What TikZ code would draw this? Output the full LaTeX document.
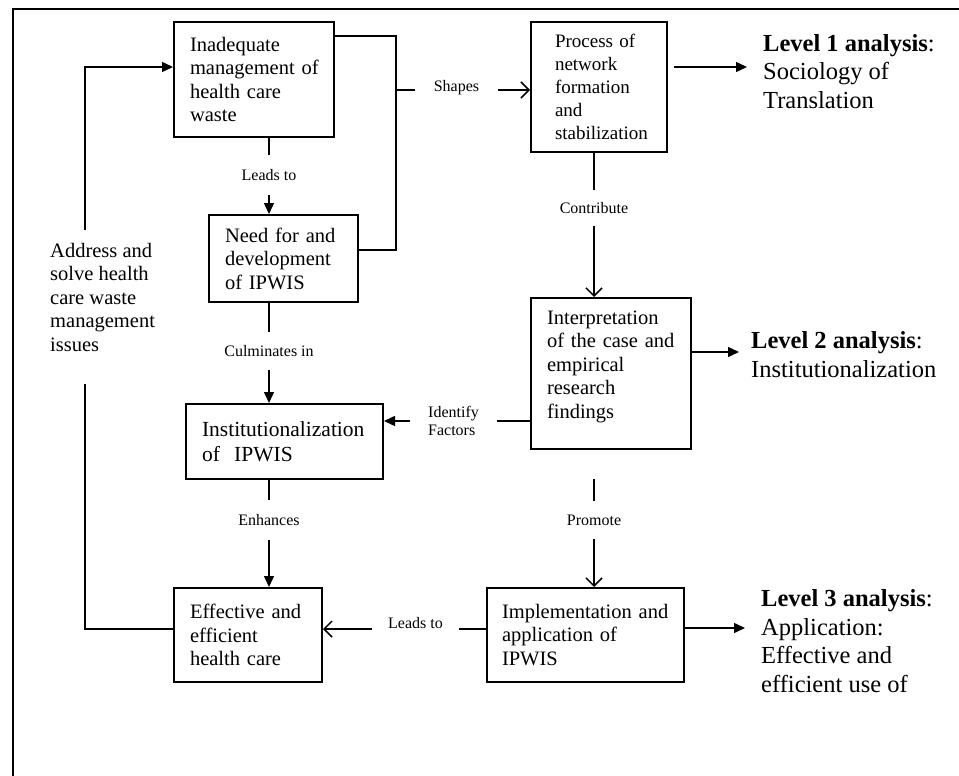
\documentclass[tikz,border=0pt]{standalone}
\usepackage{fontspec}
\setmainfont{Liberation Serif}
\usetikzlibrary{arrows.meta}
\begin{document}
\begin{tikzpicture}[x=1pt,y=-1pt,
  box/.style={draw, line width=2pt, inner xsep=16pt, inner ysep=0pt, align=left,
              font=\fontsize{20.5}{23.5}\selectfont},
  lbl/.style={inner sep=0pt, align=center, font=\fontsize{16}{18}\selectfont},
  lvl/.style={inner sep=0pt, anchor=base west, align=left,
              font=\fontsize{24.5}{28.5}\selectfont},
  conn/.style={line width=1.5pt},
  tri/.style={conn, -{Triangle[length=11pt,width=10pt]}},
  barb/.style={conn, -{Straight Barb[length=8pt,width=16pt,line width=1.5pt]}},
]
\useasboundingbox (0,0) rectangle (959,776);

% frame (runs off the page on the right and at the bottom)
\draw[line width=2pt] (13,800) -- (13,9) -- (980,9);

% boxes
\node[box, text width=128pt, minimum width=160pt, minimum height=115pt] (b1) at (254,79.5)
  {Inadequate\\management~of\\health~care\\waste};
\node[box, text width=117pt, minimum width=149pt, minimum height=87pt] (b2) at (283.5,258.5)
  {Need~for~and\\development\\of~IPWIS};
\node[box, inner xsep=24pt, text width=88pt, minimum width=136pt, minimum height=130pt,
      font=\fontsize{19}{23}\selectfont] (b3) at (599,87)
  {Process~of\\network\\formation\\and\\stabilization};
\node[box, text width=128pt, minimum width=160pt, minimum height=151pt] (b4) at (611,373.5)
  {Interpretation\\of~the~case~and\\empirical\\research\\findings\\[-5pt]\mbox{}};
\node[box, text width=165pt, minimum width=197pt, minimum height=75pt,
      font=\fontsize{21.5}{25}\selectfont] (b5) at (284.5,441.5)
  {Institutionalization\\of\ \ IPWIS};
\node[box, text width=116pt, minimum width=148pt, minimum height=94pt] (b6) at (248,635)
  {Effective~and\\efficient\\health~care};
\node[box, inner xsep=15pt, text width=167pt, minimum width=197pt, minimum height=94pt] (b7) at (585.5,635)
  {Implementation~and\\application~of\\IPWIS};

% connector labels
\node[lbl, minimum height=40pt] (l1) at (269,175) {Leads to};
\node[lbl, minimum height=38pt] (l2) at (269,351) {Culminates in};
\node[lbl, minimum height=40pt] (l3) at (269,520) {Enhances};
\node[lbl, minimum height=36pt] (l4) at (594,208) {Contribute};
\node[lbl, minimum height=38pt] (l5) at (594,520) {Promote};
\node[lbl, minimum width=83pt] (sh) at (456.5,88) {Shapes};
\node[lbl, minimum width=87pt, align=left] (id) at (453.5,421) {Identify\\Factors};
\node[lbl, minimum width=87pt] (l6) at (415.5,623) {Leads to};

% side text (anchored on the baseline of its last line)
\node[lvl, font=\fontsize{20.5}{23.5}\selectfont] (ad) at (50,351)
  {Address and\\solve health\\care waste\\management\\issues};

% level texts (anchored on the baseline of their last line)
\node[lvl] (v1) at (763,108) {\textbf{Level 1 analysis}:\\Sociology of\\Translation};
\node[lvl] (v2) at (751,377) {\textbf{Level 2 analysis}:\\Institutionalization};
\node[lvl] (v3) at (761,692) {\textbf{Level 3 analysis}:\\Application:\\Effective and\\efficient use of};

% helper points
\coordinate (s0) at (396,90);
\coordinate (p0) at (594,479);
\coordinate (r4) at (0,629);
\coordinate (f1) at (85,384);
\coordinate (f2) at (85,230);
\coordinate (f3) at (85,67);
\coordinate (a1s) at (674,67);
\coordinate (a1) at (747,67);
\coordinate (a2) at (739,352);
\coordinate (a3) at (745,628);

% vertical chain on the left
\draw[conn] (b1.south -| l1) -- (l1.north);
\draw[tri]  (l1.south) -- (l1.south |- b2.north);
\draw[conn] (b2.south -| l2) -- (l2.north);
\draw[tri]  (l2.south) -- (l2.south |- b5.north);
\draw[conn] (b5.south -| l3) -- (l3.north);
\draw[tri]  (l3.south) -- (l3.south |- b6.north);

% vertical chain on the right
\draw[conn] (b3.south -| l4) -- (l4.north);
\draw[barb] (l4.south) -- (l4.south |- b4.north);
\draw[conn] (p0) -- (l5.north);
\draw[barb] (l5.south) -- (l5.south |- b7.north);

% bracket joining the first two boxes, feeding the network process
\draw[conn] (b1.east |- 0,36) -| (s0) |- (b2.east |- 0,250);
\draw[conn] (s0) -- (s0 -| sh.west);
\draw[barb] (sh.east |- s0) -- (s0 -| b3.west);

% identify factors
\draw[conn] (b4.west |- id) -- (id.east);
\draw[tri]  (id.west) -- (id.west -| b5.east);

% bottom row
\draw[barb] (l6.west |- r4) -- (b6.east |- r4);
\draw[conn] (l6.east |- r4) -- (b7.west |- r4);

% feedback loop
\draw[conn] (b6.west |- r4) -| (f1);
\draw[tri]  (f2) -- (f3) -- (f3 -| b1.west);

% analysis levels
\draw[tri] (a1s) -- (a1);
\draw[tri] (b4.east |- a2) -- (a2);
\draw[tri] (b7.east |- a3) -- (a3);
\end{tikzpicture}
\end{document}
